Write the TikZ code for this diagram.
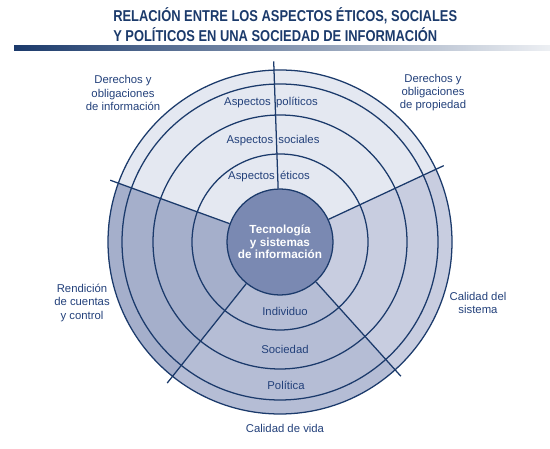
\documentclass[tikz,border=0pt]{standalone}
\usepackage{fontspec}
\setmainfont{Liberation Sans}
\usepackage{graphicx}
\usetikzlibrary{positioning,shadings}

\definecolor{navy}{HTML}{1B3A6B}
\definecolor{labelblue}{HTML}{22407A}
\definecolor{topfill}{HTML}{E4E8F1}
\definecolor{leftfill}{HTML}{A5AFCB}
\definecolor{bottomfill}{HTML}{B5BDD5}
\definecolor{rightfill}{HTML}{C8CDE0}
\definecolor{corefill}{HTML}{7A89B2}

\begin{document}
\begin{tikzpicture} [
x=0.75pt, y=0.75pt,
ring/.style={draw=navy, line width=0.95pt},
spoke/.style={draw=navy, line width=0.95pt},
outlabel/.style={align=center, text=labelblue, font=\fontsize{8.5}{9.8}\selectfont, inner sep=0pt},
inlabel/.style={text=labelblue, font=\fontsize{8.5}{9.8}\selectfont, inner sep=0pt},
corenode/.style={circle, draw=navy, line width=0.95pt, fill=corefill, minimum size=79.5pt, inner sep=0pt,
  align=center, text=white, font=\bfseries\fontsize{8.8}{9.4}\selectfont},
titletext/.style={anchor=west, text=navy, inner sep=0pt, font=\bfseries\fontsize{11.8}{12}\selectfont},
]
\useasboundingbox (0,0) rectangle (550,449);

%Title
\node[titletext] (title1) at (113,433) {\scalebox{0.82}[1]{RELACIÓN ENTRE LOS ASPECTOS ÉTICOS, SOCIALES}};
\node[titletext] (title2) at (113,414) {\scalebox{0.82}[1]{Y POLÍTICOS EN UNA SOCIEDAD DE INFORMACIÓN}};
\shade[left color=navy, right color=navy!8] (14,398) rectangle (550,403);

%Sectors
\coordinate (c) at (280,207);
\fill[topfill]    (c) -- ++(25:172)  arc[start angle=25,  end angle=160,   radius=172] -- cycle;
\fill[leftfill]   (c) -- ++(160:172) arc[start angle=160, end angle=231.5, radius=172] -- cycle;
\fill[bottomfill] (c) -- ++(231.5:172) arc[start angle=231.5, end angle=312, radius=172] -- cycle;
\fill[rightfill]  (c) -- ++(312:172) arc[start angle=312, end angle=385,   radius=172] -- cycle;

%Rings
\foreach \r in {88,127,158,172}
  \draw[ring] (c) circle[radius=\r];

%Nodes
\node[corenode] (tech) at (c) {Tecnología\\y sistemas\\de información};

%Spokes
\foreach \a in {25,92,160,231.5,312}
  \draw[spoke] (tech.\a) -- ++(\a:127);

%Labels
\node[inlabel] (politicos) at (271,346) {Aspectos\hspace{4pt}políticos};
\node[inlabel] (sociales)  at (273,308) {Aspectos\hspace{4pt}sociales};
\node[inlabel] (eticos)    at (269,272) {Aspectos\hspace{4pt}éticos};
\node[inlabel] (individuo) at (285,138) {Individuo};
\node[inlabel] (sociedad)  at (285,100) {Sociedad};
\node[inlabel] (politica)  at (286,64)  {Política};

\node[outlabel] (derinfo)   at (123,356) {Derechos y\\obligaciones\\de información};
\node[outlabel] (derprop)   at (433,356) {Derechos y\\obligaciones\\de propiedad};
\node[outlabel] (rendicion) at (82,146)  {Rendición\\de cuentas\\y control};
\node[outlabel] (calsist)   at (478,146) {Calidad del\\sistema};
\node[outlabel] (calvida)   at (285,21)  {Calidad de vida};

\end{tikzpicture}
\end{document}
